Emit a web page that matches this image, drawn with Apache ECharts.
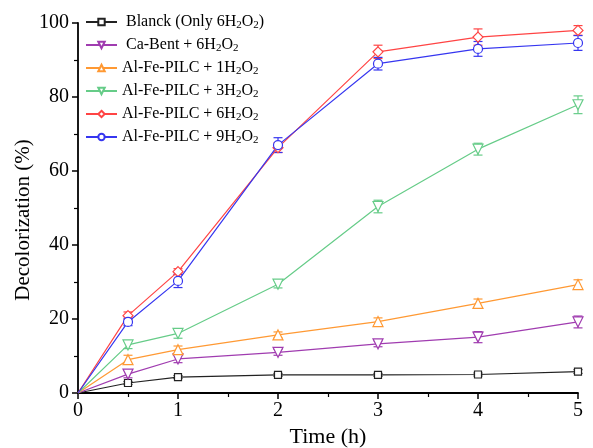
<!DOCTYPE html>
<html>
<head>
<meta charset="utf-8">
<script src="https://cdn.jsdelivr.net/npm/echarts@6/dist/echarts.min.js"></script>
<style>
  html, body { margin: 0; padding: 0; background: #fff; }
  #chart { width: 593px; height: 448px; }
</style>
</head>
<body>
<div id="chart"></div>
<script>
const timeH = [0, 0.5, 1, 2, 3, 4, 5];

const seriesNames = [
  "Blanck (Only 6H2O2)",
  "Ca-Bent + 6H2O2",
  "Al-Fe-PILC + 1H2O2",
  "Al-Fe-PILC + 3H2O2",
  "Al-Fe-PILC + 6H2O2",
  "Al-Fe-PILC + 9H2O2",
];

const blanck = [0, 2.7, 4.3, 4.9, 4.9, 5.0, 5.8];
const caBent = [0, 5.1, 9.2, 11.0, 13.3, 15.1, 19.2];
const pilc1 = [0, 9.0, 11.7, 15.7, 19.3, 24.2, 29.3];
const pilc3 = [0, 13.0, 16.1, 29.4, 50.4, 65.9, 77.9];
const pilc6 = [0, 20.9, 32.8, 66.3, 92.2, 96.2, 98.0];
const pilc9 = [0, 19.2, 30.3, 67.0, 89.0, 93.0, 94.6];

const blanckErr = [0, 0.4, 0.4, 0.4, 0.4, 0.4, 0.5];
const caBentErr = [0, 1.0, 1.0, 0.8, 0.8, 1.5, 1.6];
const pilc1Err = [0, 1.2, 1.0, 0.8, 1.0, 1.2, 1.3];
const pilc3Err = [0, 1.0, 1.3, 1.0, 1.7, 1.6, 2.4];
const pilc6Err = [0, 1.0, 0.8, 1.3, 1.8, 2.2, 1.3];
const pilc9Err = [0, 1.0, 1.8, 2.0, 1.7, 2.0, 2.0];

const yTicks = [0, 20, 40, 60, 80, 100];

const FONT = "Liberation Serif";
const COLORS = ["#222222", "#a03cb0", "#ff9933", "#66cc88", "#ff4444", "#3636f0"];
const SYMBOLS = ["rect", "triangle", "triangle", "triangle", "diamond", "circle"];
const ROTATE = [0, 180, 0, 180, 0, 0];
const SIZES = [7, 10, 10, 10, 10, 9];

const values = [blanck, caBent, pilc1, pilc3, pilc6, pilc9];
const errors = [blanckErr, caBentErr, pilc1Err, pilc3Err, pilc6Err, pilc9Err];

const richName = (name) => name.replace(/H2O2/, "H{s|2}O{s|2}");

const lineSeries = values.map((vals, i) => ({
  name: seriesNames[i],
  type: "line",
  data: timeH.map((t, j) => [t, vals[j]]),
  symbol: SYMBOLS[i],
  symbolRotate: ROTATE[i],
  // no marker drawn at the origin
  symbolSize: (v, p) => (p && p.dataIndex === 0 ? 0 : SIZES[i]),
  showAllSymbol: true,
  z: 3,
  lineStyle: { color: COLORS[i], width: 1.2 },
  itemStyle: { color: "#fff", borderColor: COLORS[i], borderWidth: 1.2 },
}));

const errorSeries = values.map((vals, i) => ({
  name: seriesNames[i] + " err",
  type: "custom",
  z: 2,
  silent: true,
  data: timeH
    .map((t, j) => [t, vals[j] - errors[i][j], vals[j] + errors[i][j]])
    .filter((d, j) => errors[i][j] > 0),
  renderItem: (params, api) => {
    const lo = api.coord([api.value(0), api.value(1)]);
    const hi = api.coord([api.value(0), api.value(2)]);
    const w = 4.5;
    const style = { stroke: COLORS[i], lineWidth: 1.2 };
    return {
      type: "group",
      children: [
        { type: "line", shape: { x1: lo[0], y1: lo[1], x2: hi[0], y2: hi[1] }, style },
        { type: "line", shape: { x1: lo[0] - w, y1: lo[1], x2: lo[0] + w, y2: lo[1] }, style },
        { type: "line", shape: { x1: hi[0] - w, y1: hi[1], x2: hi[0] + w, y2: hi[1] }, style },
      ],
    };
  },
}));

const chart = echarts.init(document.getElementById("chart"));
chart.setOption({
  animation: false,
  backgroundColor: "#fff",
  textStyle: { fontFamily: FONT },
  grid: { left: 78, right: 15, top: 23, bottom: 55, outerBoundsMode: "none", containLabel: false },
  graphic: [
    {
      type: "text",
      x: 23,
      y: 220,
      rotation: Math.PI / 2,
      style: {
        text: "Decolorization (%)",
        font: '21px "Liberation Serif"',
        fill: "#000",
        textAlign: "center",
        textVerticalAlign: "middle",
      },
    },
  ],
  legend: {
    data: seriesNames,
    orient: "vertical",
    left: 85,
    top: 13,
    padding: 0,
    itemWidth: 31,
    itemHeight: 8,
    itemGap: 5,
    selectedMode: false,
    formatter: (name) => (name.startsWith("Al") ? "" : " ") + richName(name),
    textStyle: {
      fontFamily: FONT,
      fontSize: 16,
      lineHeight: 18,
      color: "#000",
      rich: {
        s: { fontFamily: FONT, fontSize: 11, lineHeight: 12, verticalAlign: "bottom", padding: [6, 0, 0, 0], color: "#000" },
      },
    },
  },
  xAxis: {
    type: "value",
    min: 0,
    max: 5,
    interval: 1,
    name: "Time (h)",
    nameLocation: "middle",
    nameGap: 33,
    nameTextStyle: { fontFamily: FONT, fontSize: 22, color: "#000" },
    axisLine: { lineStyle: { color: "#000", width: 1.8 } },
    axisTick: { inside: false, length: 6, lineStyle: { color: "#000", width: 1.5 } },
    minorTick: { show: true, splitNumber: 2, length: 4, lineStyle: { color: "#000", width: 1.2 } },
    axisLabel: { fontFamily: FONT, fontSize: 20, color: "#000", margin: 8 },
    splitLine: { show: false },
  },
  yAxis: {
    type: "value",
    min: yTicks[0],
    max: yTicks[yTicks.length - 1],
    interval: 20,
    axisLine: { show: true, lineStyle: { color: "#000", width: 1.8 } },
    axisTick: { show: true, length: 6, lineStyle: { color: "#000", width: 1.5 } },
    minorTick: { show: true, splitNumber: 2, length: 4, lineStyle: { color: "#000", width: 1.2 } },
    axisLabel: { fontFamily: FONT, fontSize: 20, color: "#000", margin: 9 },
    splitLine: { show: false },
  },
  series: [...lineSeries, ...errorSeries],
});
</script>
</body>
</html>
